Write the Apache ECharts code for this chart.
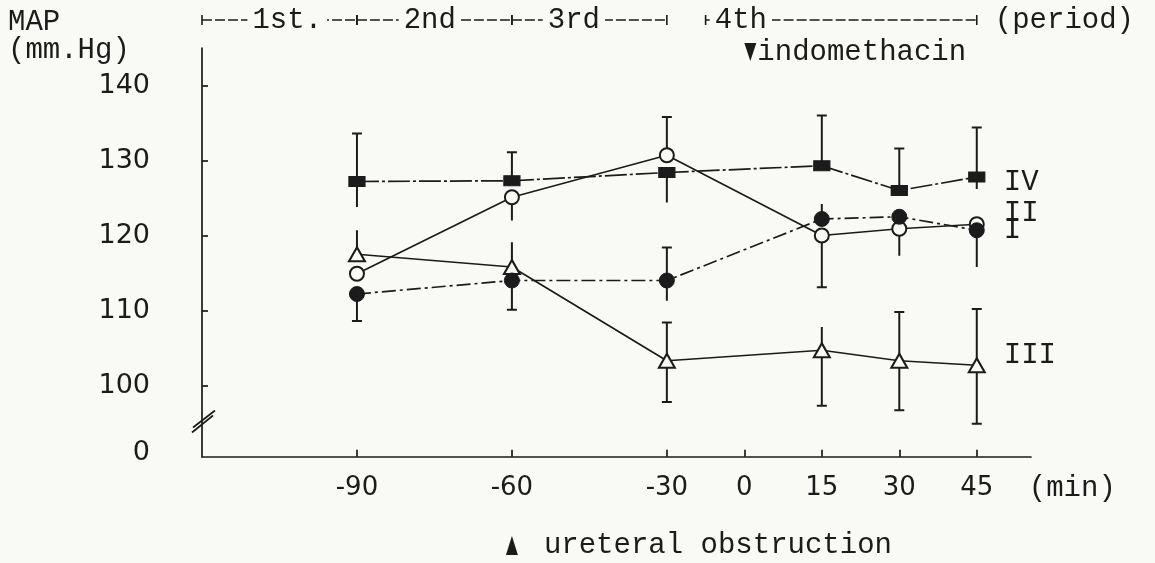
<!DOCTYPE html>
<html>
<head>
<meta charset="utf-8">
<script src="https://cdn.jsdelivr.net/npm/echarts@6/dist/echarts.min.js"></script>
<style>
  html, body { margin: 0; padding: 0; background: #f9f9f6; }
  #chart { width: 1155px; height: 563px; }
</style>
</head>
<body>
<div id="chart"></div>
<script>
// Sampling times (min, relative to indomethacin) and axis ticks
const minutes = [-90, -60, -30, 15, 30, 45];
const xTickMinutes = [-90, -60, -30, 0, 15, 30, 45];
const yTickValues = [100, 110, 120, 130, 140];
const yBreakLabel = '0';

// Mean arterial pressure (mm Hg) per group
const groupI   = [112.2, 114.0, 114.0, 122.2, 122.5, 120.7];
const groupII  = [114.9, 125.1, 130.7, 120.0, 120.9, 121.5];
const groupIII = [117.5, 115.8, 103.3, 104.7, 103.3, 102.7];
const groupIV  = [127.2, 127.3, 128.4, 129.3, 126.0, 127.8];

// Whisker ends (null = no whisker on that side)
const lowI   = [108.6, 110.1, 111.3, null, null, null];
const highI  = [null, null, 118.4, 124.2, null, null];
const lowII  = [null, 122.0, null, 113.1, 117.3, 115.8];
const highII = [null, null, 135.8, null, null, null];
const lowIII  = [null, null, 97.8, 97.3, 96.7, 94.9];
const highIII = [120.7, 119.1, 108.4, 107.8, 109.8, 110.2];
const lowIV  = [123.8, null, 124.4, null, null, 126.2];
const highIV = [133.6, 131.1, null, 136.0, 131.6, 134.4];

// Which whisker ends carry a cap
const capLowI   = [1, 1, 0, 0, 0, 0];
const capHighI  = [0, 0, 1, 0, 0, 0];
const capLowII  = [0, 0, 0, 1, 0, 0];
const capHighII = [0, 0, 1, 0, 0, 0];
const capLowIII  = [0, 0, 1, 1, 1, 1];
const capHighIII = [0, 0, 1, 0, 1, 1];
const capLowIV  = [0, 0, 0, 0, 0, 0];
const capHighIV = [1, 1, 0, 1, 1, 1];

// Experimental periods shown above the plot
const periodNames = ['1st.', '2nd', '3rd', '4th'];
const periodStart = [-120, -90, -60, -15];
const periodEnd   = [-90, -60, -30, 45];

const INK = '#1b1b1b';
const BG = '#f9f9f6';
const MONO = '"Liberation Mono", "DejaVu Sans Mono", monospace';
const SANS = '"DejaVu Sans", sans-serif';

// The time axis is drawn with a broken scale: 30-min steps before -30,
// then one unit from -30 to 0 and one unit per 15 min afterwards.
function pos(t) {
  if (t <= -30) return (t + 90) / 15;
  if (t <= 0) return 4 + (t + 30) / 30;
  return 5 + t / 15;
}

const Y_MIN = 90.5, Y_MAX = 145;

function lineSeries(name, values, dash, labelOffset) {
  return {
    type: 'line', name, z: 1, symbol: 'none', silent: true,
    data: minutes.map((t, i) => [pos(t), values[i]]),
    lineStyle: { color: INK, width: 1.7, type: dash },
    endLabel: {
      show: true, formatter: name, distance: 0, offset: labelOffset,
      color: INK, fontFamily: MONO, fontSize: 29, align: 'left', verticalAlign: 'middle'
    }
  };
}

function markerSeries(name, values, symbol, size, filled) {
  return {
    type: 'scatter', name: name + ' points', z: 4, symbol, symbolSize: size, silent: true,
    data: minutes.map((t, i) => [pos(t), values[i]]),
    itemStyle: filled
      ? { color: INK, borderColor: INK, borderWidth: 1, opacity: 1 }
      : { color: BG, borderColor: INK, borderWidth: 2, opacity: 1 }
  };
}

function whiskerSeries(name, values, low, high, capLow, capHigh) {
  return {
    type: 'custom', name: name + ' error', z: 2, silent: true,
    data: minutes.map((t, i) => [
      pos(t), values[i],
      low[i] == null ? values[i] : low[i],
      high[i] == null ? values[i] : high[i],
      capLow[i], capHigh[i]
    ]),
    encode: { x: 0, y: [1, 2, 3] },
    renderItem(params, api) {
      const x = api.value(0);
      const m = api.coord([x, api.value(1)]);
      const lo = api.coord([x, api.value(2)]);
      const hi = api.coord([x, api.value(3)]);
      const style = { stroke: INK, lineWidth: 2 };
      const cw = 5;
      const kids = [];
      if (lo[1] - m[1] > 0.5) {
        kids.push({ type: 'line', shape: { x1: m[0], y1: m[1], x2: lo[0], y2: lo[1] }, style });
        if (api.value(4)) kids.push({ type: 'line', shape: { x1: lo[0] - cw, y1: lo[1], x2: lo[0] + cw, y2: lo[1] }, style });
      }
      if (m[1] - hi[1] > 0.5) {
        kids.push({ type: 'line', shape: { x1: m[0], y1: m[1], x2: hi[0], y2: hi[1] }, style });
        if (api.value(5)) kids.push({ type: 'line', shape: { x1: hi[0] - cw, y1: hi[1], x2: hi[0] + cw, y2: hi[1] }, style });
      }
      return { type: 'group', children: kids };
    }
  };
}

const chart = echarts.init(document.getElementById('chart'), null, { renderer: 'canvas' });

const xTickPos = xTickMinutes.map(pos);

chart.setOption({
  animation: false,
  backgroundColor: BG,
  grid: { left: 202, right: 124, top: 48, bottom: 106.25, containLabel: false },
  xAxis: {
    type: 'value', min: -2, max: 8.7,
    splitLine: { show: false },
    axisLine: { show: true, onZero: false, lineStyle: { color: INK, width: 1.7 } },
    axisTick: { show: true, inside: true, length: 7, customValues: xTickPos, lineStyle: { color: INK, width: 1.7 } },
    axisLabel: {
      show: true, customValues: xTickPos, margin: 18,
      color: INK, fontFamily: SANS, fontSize: 26,
      formatter: v => {
        const i = xTickPos.findIndex(p => Math.abs(p - v) < 1e-6);
        return i < 0 ? '' : String(xTickMinutes[i]);
      }
    }
  },
  yAxis: {
    type: 'value', min: Y_MIN, max: Y_MAX,
    splitLine: { show: false },
    axisLine: { show: true, onZero: false, lineStyle: { color: INK, width: 1.7 } },
    axisTick: { show: true, inside: true, length: 6, customValues: yTickValues, lineStyle: { color: INK, width: 1.7 } },
    axisLabel: {
      show: true, customValues: [Y_MIN + 0.5].concat(yTickValues), margin: 52,
      color: INK, fontFamily: SANS, fontSize: 27,
      formatter: v => (v < yTickValues[0] ? yBreakLabel : String(v))
    }
  },
  series: [
    lineSeries('IV', groupIV, [22, 3, 3, 3], [27, 5]),
    lineSeries('II', groupII, 'solid', [27, -11]),
    lineSeries('I', groupI, [14, 4, 3, 4], [27, 0]),
    lineSeries('III', groupIII, 'solid', [27, -10]),
    whiskerSeries('IV', groupIV, lowIV, highIV, capLowIV, capHighIV),
    whiskerSeries('II', groupII, lowII, highII, capLowII, capHighII),
    whiskerSeries('I', groupI, lowI, highI, capLowI, capHighI),
    whiskerSeries('III', groupIII, lowIII, highIII, capLowIII, capHighIII),
    markerSeries('IV', groupIV, 'rect', [16, 10], true),
    markerSeries('III', groupIII, 'triangle', [16, 14], false),
    markerSeries('II', groupII, 'circle', 14, false),
    markerSeries('I', groupI, 'circle', 15, true)
  ]
});

// Annotations anchored to the axes
const px = t => chart.convertToPixel({ gridIndex: 0 }, [pos(t), 120])[0];
const py = v => chart.convertToPixel({ gridIndex: 0 }, [0, v])[1];
const axisX = px(-120);
const g = [];
const monoText = (text, x, y, align) => ({
  type: 'text', x, y, z: 10,
  style: { text, fill: INK, font: '29px ' + MONO, align: align || 'left', verticalAlign: 'middle' }
});

g.push(monoText('MAP', 8, 22));
g.push(monoText('(mm.Hg)', 8, 50));

// Period brackets
const headY = 20;
const labelAt = [0.55, 0.47, 0.4, 0.13];
periodStart.forEach((s, i) => {
  const x1 = px(s), x2 = px(periodEnd[i]);
  const st = { stroke: INK, lineWidth: 1.6 };
  g.push({ type: 'line', z: 9, shape: { x1, y1: headY, x2, y2: headY }, style: { stroke: INK, lineWidth: 1.6, lineDash: [10, 3] } });
  g.push({ type: 'line', z: 9, shape: { x1, y1: headY - 5, x2: x1, y2: headY + 5 }, style: st });
  g.push({ type: 'line', z: 9, shape: { x1: x2, y1: headY - 5, x2, y2: headY + 5 }, style: st });
  const t = monoText(periodNames[i], x1 + (x2 - x1) * labelAt[i], headY, 'center');
  t.style.backgroundColor = BG;
  t.style.padding = [0, 5];
  g.push(t);
});
g.push(monoText('(period)', px(45) + 18, headY));

// Indomethacin given at time 0
const x0 = px(0);
g.push({ type: 'polygon', z: 10, shape: { points: [[x0, 43], [x0 + 12, 43], [x0 + 6, 61]] }, style: { fill: INK } });
g.push(monoText('indomethacin', x0 + 13, 52));

// Ureteral obstruction at -60 min
const xo = px(-60);
g.push({ type: 'polygon', z: 10, shape: { points: [[xo - 6, 555], [xo + 6, 555], [xo, 536]] }, style: { fill: INK } });
g.push(monoText('ureteral obstruction', xo + 32, 545));

// Time unit
g.push(monoText('(min)', px(45) + 52, 488));

// Axis break mark
const yb = py(95);
const bs = { stroke: INK, lineWidth: 1.7 };
g.push({ type: 'line', z: 10, shape: { x1: axisX - 10, y1: yb + 9.5, x2: axisX + 11, y2: yb - 7.5 }, style: bs });
g.push({ type: 'line', z: 10, shape: { x1: axisX - 9, y1: yb + 4.5, x2: axisX + 13, y2: yb - 12.5 }, style: bs });

chart.setOption({ graphic: g });
</script>
</body>
</html>
